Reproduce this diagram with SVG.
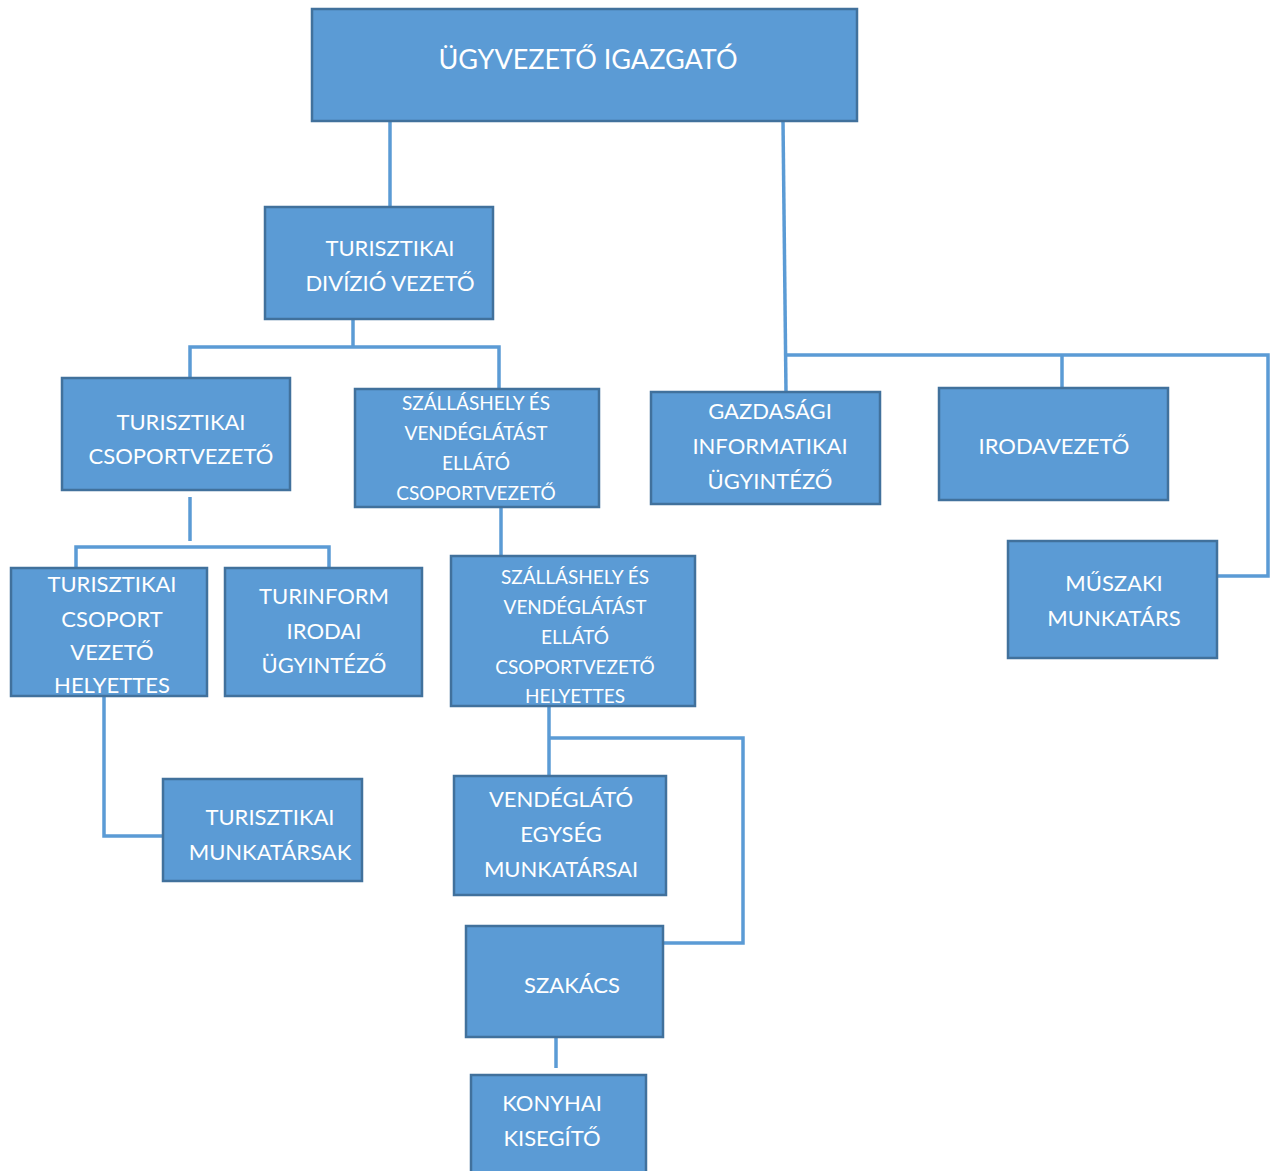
<svg xmlns="http://www.w3.org/2000/svg" width="1271" height="1171" viewBox="0 0 1271 1171">
<style>
.box{fill:#5B9BD5;stroke:#41719C;stroke-width:2.5}
.t{font-family:Lato,"Liberation Sans",sans-serif;font-size:22px;fill:#ffffff;text-anchor:middle}
.s{font-size:19px}
.big{font-size:27px}
.c{fill:none;stroke:#5B9BD5;stroke-width:3.5}
</style>
<rect width="1271" height="1171" fill="#ffffff"/>
<g id="connectors">
<path class="c" d="M390,121V207"/>
<path class="c" d="M783,121L786,392"/>
<path class="c" d="M785,355H1268V576H1217"/>
<path class="c" d="M1062,355V388"/>
<path class="c" d="M353,319V347"/>
<path class="c" d="M190,378V347H499V389"/>
<path class="c" d="M190,497V541"/>
<path class="c" d="M76,568V547H329V568"/>
<path class="c" d="M501,507V556"/>
<path class="c" d="M104,696V836H163"/>
<path class="c" d="M549,706V776"/>
<path class="c" d="M549,738H743V943H663"/>
<path class="c" d="M556,1037V1068"/>
</g>
<g id="n1"><rect class="box" x="312" y="9" width="545" height="112"/><text class="t big" x="588" y="69">ÜGYVEZETŐ IGAZGATÓ</text></g>
<g id="n2"><rect class="box" x="265" y="207" width="228" height="112"/><text class="t" x="390" y="256">TURISZTIKAI</text><text class="t" x="390" y="291">DIVÍZIÓ VEZETŐ</text></g>
<g id="n3"><rect class="box" x="62" y="378" width="228" height="112"/><text class="t" x="181" y="430">TURISZTIKAI</text><text class="t" x="181" y="464">CSOPORTVEZETŐ</text></g>
<g id="n4"><rect class="box" x="355" y="389" width="244" height="118"/><text class="t s" x="476" y="410">SZÁLLÁSHELY ÉS</text><text class="t s" x="476" y="440">VENDÉGLÁTÁST</text><text class="t s" x="476" y="470">ELLÁTÓ</text><text class="t s" x="476" y="500">CSOPORTVEZETŐ</text></g>
<g id="n5"><rect class="box" x="651" y="392" width="229" height="112"/><text class="t" x="770" y="419">GAZDASÁGI</text><text class="t" x="770" y="454">INFORMATIKAI</text><text class="t" x="770" y="489">ÜGYINTÉZŐ</text></g>
<g id="n6"><rect class="box" x="939" y="388" width="229" height="112"/><text class="t" x="1054" y="454">IRODAVEZETŐ</text></g>
<g id="n7"><rect class="box" x="1008" y="541" width="209" height="117"/><text class="t" x="1114" y="591">MŰSZAKI</text><text class="t" x="1114" y="626">MUNKATÁRS</text></g>
<g id="n8"><rect class="box" x="11" y="568" width="196" height="128"/><text class="t" x="112" y="592">TURISZTIKAI</text><text class="t" x="112" y="627">CSOPORT</text><text class="t" x="112" y="660">VEZETŐ</text><text class="t" x="112" y="693">HELYETTES</text></g>
<g id="n9"><rect class="box" x="225" y="568" width="197" height="128"/><text class="t" x="324" y="604">TURINFORM</text><text class="t" x="324" y="639">IRODAI</text><text class="t" x="324" y="673">ÜGYINTÉZŐ</text></g>
<g id="n10"><rect class="box" x="451" y="556" width="244" height="150"/><text class="t s" x="575" y="584">SZÁLLÁSHELY ÉS</text><text class="t s" x="575" y="614">VENDÉGLÁTÁST</text><text class="t s" x="575" y="644">ELLÁTÓ</text><text class="t s" x="575" y="674">CSOPORTVEZETŐ</text><text class="t s" x="575" y="703">HELYETTES</text></g>
<g id="n11"><rect class="box" x="163" y="779" width="199" height="102"/><text class="t" x="270" y="825">TURISZTIKAI</text><text class="t" x="270" y="860">MUNKATÁRSAK</text></g>
<g id="n12"><rect class="box" x="454" y="776" width="212" height="119"/><text class="t" x="561" y="807">VENDÉGLÁTÓ</text><text class="t" x="561" y="842">EGYSÉG</text><text class="t" x="561" y="877">MUNKATÁRSAI</text></g>
<g id="n13"><rect class="box" x="466" y="926" width="197" height="111"/><text class="t" x="572" y="993">SZAKÁCS</text></g>
<g id="n14"><rect class="box" x="471" y="1075" width="175" height="110"/><text class="t" x="552" y="1111">KONYHAI</text><text class="t" x="552" y="1146">KISEGÍTŐ</text></g>
</svg>
